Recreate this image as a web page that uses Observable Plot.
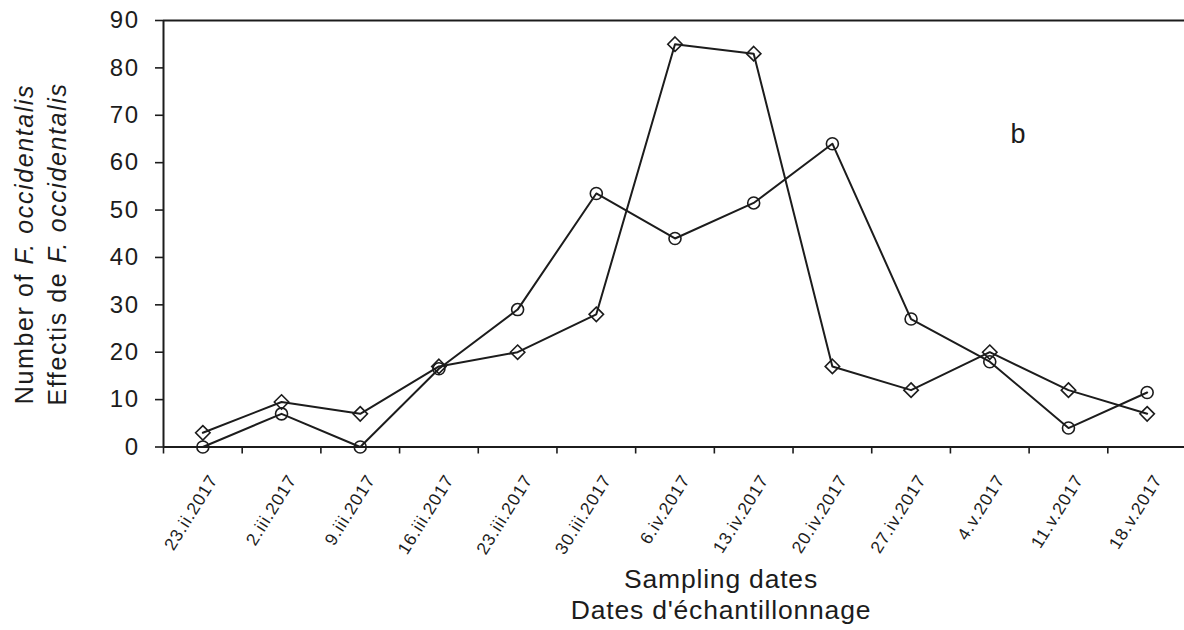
<!DOCTYPE html>
<html>
<head>
<meta charset="utf-8">
<script src="https://cdn.jsdelivr.net/npm/d3@7"></script>
<script src="https://cdn.jsdelivr.net/npm/@observablehq/plot@0.6"></script>
<style>
  html, body { margin: 0; padding: 0; background: #fff; }
  #chart svg { display: block; }
  #chart g[aria-label="y-axis tick label"] text { letter-spacing: 1.5px; }
  #chart g.y-title text { letter-spacing: 1.6px; }
</style>
</head>
<body>
<div id="chart"></div>
<script>
// Sampling dates (weekly) and weekly counts of F. occidentalis for the two series
const dates = ["23.ii.2017", "2.iii.2017", "9.iii.2017", "16.iii.2017", "23.iii.2017", "30.iii.2017",
               "6.iv.2017", "13.iv.2017", "20.iv.2017", "27.iv.2017", "4.v.2017", "11.v.2017", "18.v.2017"];
const circleCounts  = [0, 7, 0, 16.5, 29, 53.5, 44, 51.5, 64, 27, 18, 4, 11.5];
const diamondCounts = [3, 9.5, 7, 17, 20, 28, 85, 83, 17, 12, 20, 12, 7];
const yTicks = [0, 10, 20, 30, 40, 50, 60, 70, 80, 90];
const xTitle = "Sampling dates\nDates d'échantillonnage";
const panelLabel = "b";

const rows = dates.map((date, i) => ({date, slot: i, circle: circleCounts[i], diamond: diamondCounts[i]}));
const mid = d => d.slot + 0.5; // centre of each weekly slot

const ink = "#1c1c1c";
const font = "'Liberation Sans', Arial, sans-serif";

const chart = Plot.plot({
  width: 1184,
  height: 630,
  marginLeft: 163,
  marginTop: 20,
  marginRight: 0,
  marginBottom: 183.5,
  style: {fontFamily: font, color: ink, background: "#fff"},
  x: {domain: [0, dates.length], range: [163, 1186]},
  y: {domain: [0, 90], range: [446.5, 20]},
  marks: [
    Plot.axisY({ticks: yTicks, tickSize: 8, tickPadding: 16, fontSize: 24, label: null, strokeWidth: 1.6}),
    Plot.axisX({ticks: d3.range(0, dates.length + 1), tickSize: 7, tickFormat: () => "", label: null, strokeWidth: 1.6}),
    Plot.ruleY([0], {stroke: ink, strokeWidth: 2}),
    Plot.ruleY([90], {stroke: ink, strokeWidth: 2}),
    Plot.ruleX([0], {stroke: ink, strokeWidth: 2}),
    Plot.text(rows, {
      x: mid, y: 0, text: "date", rotate: -58, textAnchor: "end", lineAnchor: "top",
      dx: 5, dy: 26, fontSize: 17.5, fill: ink
    }),
    Plot.line(rows, {x: mid, y: "circle", stroke: ink, strokeWidth: 2}),
    Plot.line(rows, {x: mid, y: "diamond", stroke: ink, strokeWidth: 2}),
    Plot.dot(rows, {x: mid, y: "circle", r: 6, symbol: "circle", stroke: ink, fill: "none", strokeWidth: 1.6}),
    Plot.dot(rows, {x: mid, y: "diamond", r: 6.5, symbol: "diamond2", stroke: ink, fill: "none", strokeWidth: 1.6}),
    Plot.text([xTitle], {
      frameAnchor: "bottom", dx: 47, dy: 171.5, lineAnchor: "bottom", lineHeight: 1.17,
      fontSize: 26.5, fill: ink
    }),
    Plot.text([panelLabel], {frameAnchor: "top-right", dx: -159, dy: 122, lineAnchor: "bottom", fontSize: 27, fill: ink})
  ]
});

const svg = d3.select(chart);

// Wider tracking for the rotated date labels and the x title
svg.selectAll("text")
  .filter(function() { return dates.includes(this.textContent); })
  .style("letter-spacing", "0.9px");
svg.selectAll("text")
  .filter(function() { return this.textContent.startsWith("Sampling"); })
  .style("letter-spacing", "0.8px");

// Two-line rotated y title with the species name in italics
const yTitleLines = [["Number of ", "F. occidentalis"], ["Effectis de ", "F. occidentalis"]];
const yTitle = svg.append("g")
  .attr("class", "y-title")
  .attr("font-family", font)
  .attr("font-size", 25)
  .attr("fill", ink)
  .attr("text-anchor", "middle");
yTitleLines.forEach(([plain, species], k) => {
  const t = yTitle.append("text")
    .attr("transform", `translate(${33 + k * 33},244) rotate(-90)`);
  t.append("tspan").text(plain);
  t.append("tspan").attr("font-style", "italic").text(species);
});

document.getElementById("chart").append(chart);
</script>
</body>
</html>
